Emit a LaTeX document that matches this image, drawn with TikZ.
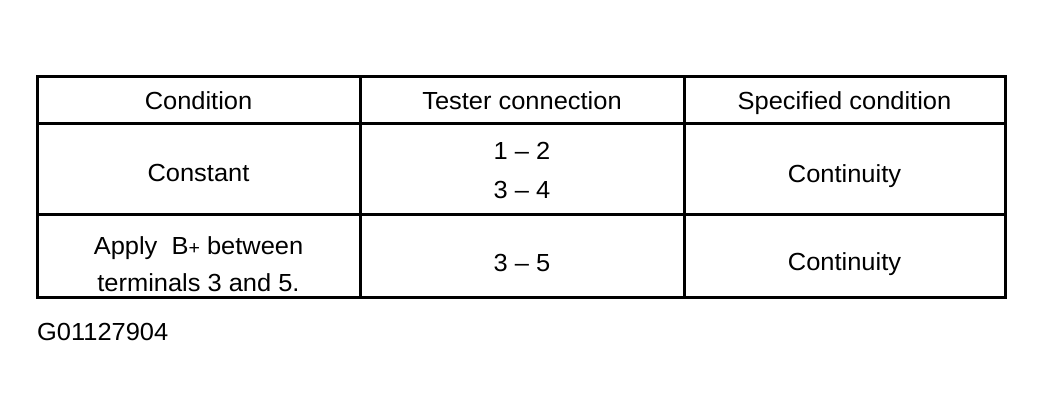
\documentclass[tikz,border=0pt]{standalone}
\usepackage{fontspec}
\setmainfont{Liberation Sans}[FakeStretch=1.03]
\begin{document}
\begin{tikzpicture}[x=1pt,y=-1pt,
  rule/.style={line width=3pt},
  cell/.style={anchor=base,inner sep=0pt,font=\fontsize{24.7}{29}\selectfont},
  tag/.style={anchor=base west,inner sep=0pt,font=\fontsize{24.7}{29}\selectfont}]
\useasboundingbox (0,0) rectangle (1044,418);
% grid
\draw[rule] (37.5,76) rectangle (1005,297);
\draw[rule] (37.5,123) -- (1005,123);
\draw[rule] (37.5,214.5) -- (1005,214.5);
\draw[rule] (360,76) -- (360,297);
\draw[rule] (684,76) -- (684,297);
% header
\node[cell] (h1) at (198.5,109) {Condition};
\node[cell] (h2) at (522,109) {Tester connection};
\node[cell] (h3) at (844.5,109) {Specified condition};
% row 1
\node[cell] (c1) at (198.5,181) {Constant};
\node[cell] (t1a) at (522,159) {1 -- 2};
\node[cell] (t1b) at (522,198) {3 -- 4};
\node[cell] (s1) at (844.5,182) {Continuity};
% row 2
\node[cell] (c2a) at (198.5,254) {Apply\ \ B{\fontsize{19}{20}\selectfont+} between};
\node[cell] (c2b) at (198.5,291) {terminals 3 and 5.};
\node[cell] (t2) at (522,271) {3 -- 5};
\node[cell] (s2) at (844.5,270) {Continuity};
% figure tag
\node[tag] (g) at (37,340) {G01127904};
\end{tikzpicture}
\end{document}
